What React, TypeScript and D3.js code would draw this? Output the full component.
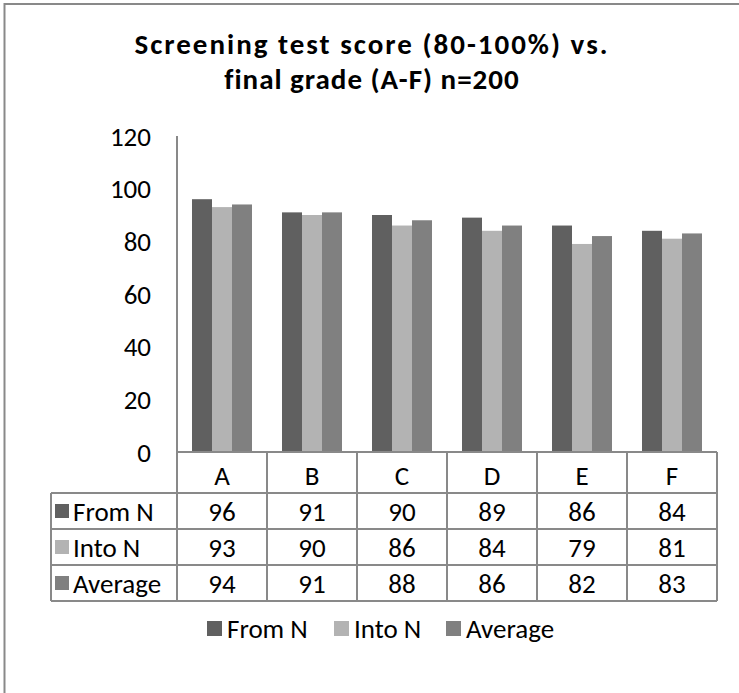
import React from 'react';
import * as d3 from 'd3';

const categories = ['A', 'B', 'C', 'D', 'E', 'F'];
const seriesNames = ['From N', 'Into N', 'Average'];
const fromN = [96, 91, 90, 89, 86, 84];
const intoN = [93, 90, 86, 84, 79, 81];
const average = [94, 91, 88, 86, 82, 83];
const yTicks = [0, 20, 40, 60, 80, 100, 120];
const titleLines = ['Screening test score (80-100%) vs.', 'final grade (A-F) n=200'];

const seriesValues = [fromN, intoN, average];
const colors = ['#606060', '#b3b3b3', '#808080'];

const W = 739;
const H = 693;
const FONT = 'Carlito, Lato, "Open Sans", sans-serif';
const GRID = '#898989';
const FS = 27;

export default function App() {
  const left = 177;
  const right = 717;
  const top = 136;
  const bottom = 452;
  const tableLeft = 51;
  const rowEdges = [452, 493, 529, 565, 601];

  const y = d3.scaleLinear().domain([0, 120]).range([bottom, top]);
  const x0 = d3.scaleBand<string>().domain(categories).range([left, right]).paddingInner(0).paddingOuter(0);
  const bw = x0.bandwidth();
  const x1 = d3.scaleBand<string>().domain(seriesNames).range([bw / 6, (bw * 5) / 6]);

  const legendItems = [
    { name: seriesNames[0], sq: 207, tx: 227 },
    { name: seriesNames[1], sq: 334, tx: 354 },
    { name: seriesNames[2], sq: 446, tx: 466 },
  ];
  const legendY = 628;

  return (
    <svg width={W} height={H} style={{ position: 'absolute', left: 0, top: 0, background: '#fff' }} fontFamily={FONT}>
      <rect x={0} y={0} width={W} height={H} fill="#fff" />
      <rect x={4.5} y={4} width={W + 20} height={H + 20} fill="none" stroke={GRID} strokeWidth={2} />

      {titleLines.map((t, i) => (
        <text key={i} x={372} y={44 + i * 35} textAnchor="middle" dominantBaseline="central" fontWeight="bold" fontSize={29} letterSpacing={i === 0 ? 2 : 1} fill="#000">
          {t}
        </text>
      ))}

      {yTicks.map((t) => (
        <text key={t} x={151} y={y(t)} textAnchor="end" dominantBaseline="central" fontSize={FS} fill="#000">
          {t}
        </text>
      ))}

      {categories.map((c, ci) => (
        <g key={c} transform={`translate(${x0(c)},0)`}>
          {seriesNames.map((s, si) => (
            <rect key={s} x={x1(s)} y={y(seriesValues[si][ci])} width={x1.bandwidth()} height={y(0) - y(seriesValues[si][ci])} fill={colors[si]} />
          ))}
        </g>
      ))}

      {/* y axis */}
      <line x1={left} x2={left} y1={top} y2={rowEdges[4]} stroke={GRID} strokeWidth={2} />

      {/* table horizontal lines */}
      <line x1={left} x2={right} y1={rowEdges[0]} y2={rowEdges[0]} stroke={GRID} strokeWidth={2} />
      {rowEdges.slice(1).map((r) => (
        <line key={r} x1={tableLeft} x2={right} y1={r} y2={r} stroke={GRID} strokeWidth={2} />
      ))}
      {/* table vertical lines */}
      <line x1={tableLeft} x2={tableLeft} y1={rowEdges[1]} y2={rowEdges[4]} stroke={GRID} strokeWidth={2} />
      {categories.map((c) => (
        <line key={c} x1={(x0(c) as number) + bw} x2={(x0(c) as number) + bw} y1={rowEdges[0]} y2={rowEdges[4]} stroke={GRID} strokeWidth={2} />
      ))}

      {/* header row */}
      {categories.map((c) => (
        <text key={c} x={(x0(c) as number) + bw / 2} y={475} textAnchor="middle" dominantBaseline="central" fontSize={FS} fill="#000">
          {c}
        </text>
      ))}

      {/* data rows */}
      {seriesNames.map((s, si) => {
        const cy = (rowEdges[si + 1] + rowEdges[si + 2]) / 2;
        return (
          <g key={s}>
            <rect x={55} y={cy - 7} width={14} height={14} fill={colors[si]} />
            <text x={73} y={cy} dominantBaseline="central" fontSize={FS} fill="#000">
              {s}
            </text>
            {categories.map((c, ci) => (
              <text key={c} x={(x0(c) as number) + bw / 2} y={cy} textAnchor="middle" dominantBaseline="central" fontSize={FS} fill="#000">
                {seriesValues[si][ci]}
              </text>
            ))}
          </g>
        );
      })}

      {/* legend */}
      {legendItems.map((l, i) => (
        <g key={l.name}>
          <rect x={l.sq} y={legendY - 7} width={15} height={15} fill={colors[i]} />
          <text x={l.tx} y={legendY} dominantBaseline="central" fontSize={FS} fill="#000">
            {l.name}
          </text>
        </g>
      ))}
    </svg>
  );
}
